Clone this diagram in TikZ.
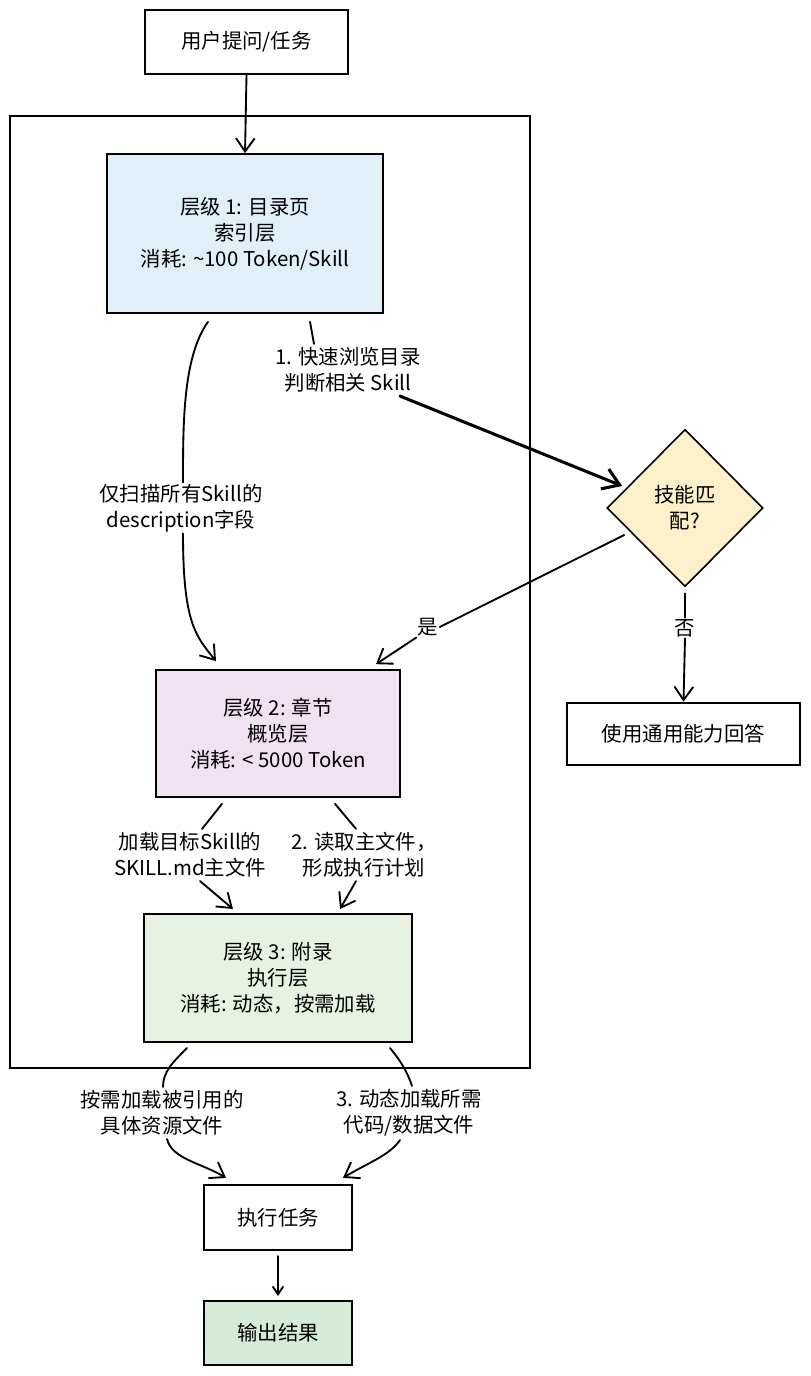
\documentclass[tikz,border=0pt]{standalone}
\usepackage{fontspec}
\setmainfont{Noto Sans CJK SC}
\usetikzlibrary{shapes.geometric,arrows.meta,calc}
\definecolor{cone}{HTML}{DFF0F8}
\definecolor{ctwo}{HTML}{F0E2F1}
\definecolor{cthree}{HTML}{E7F2E3}
\definecolor{cdia}{HTML}{FCF0CB}
\definecolor{cout}{HTML}{D4EBD9}
\begin{document}
\begin{tikzpicture}[x=0.75pt,y=-0.75pt,
  font=\fontsize{15.3}{19.5}\selectfont,
  box/.style={draw=black, line width=1.5pt, align=center, inner sep=2pt},
  dia/.style={draw=black, line width=1.2pt, shape=diamond, aspect=1, inner sep=0pt, align=center},
  lbl/.style={align=center, inner sep=1pt},
  conn/.style={line width=1.4pt, line cap=round},
  arr/.style={conn, -{Straight Barb[length=10pt,width=14pt]}},
  thickarr/.style={line width=2.3pt, line cap=round, -{Straight Barb[length=12pt,width=16pt]}},
  smallarr/.style={conn, -{Straight Barb[length=6pt,width=8pt]}}
]
\fill[white] (0,0) rectangle (810,1376);
\useasboundingbox (0,0) rectangle (810,1376);

% container
\node[draw=black, line width=1.2pt, minimum width=390pt, minimum height=714pt, inner sep=0pt] (frame) at (270,592) {};

% boxes
\node[box, minimum width=152pt, minimum height=48pt] (user) at (246.5,42) {用户提问/任务};
\node[box, fill=cone, minimum width=207pt, minimum height=119pt] (L1) at (245,233.5) {层级 1: 目录页\\索引层\\消耗: \textasciitilde100 Token/Skill};
\node[box, fill=ctwo, minimum width=183pt, minimum height=95pt] (L2) at (278,733.5) {层级 2: 章节\\概览层\\消耗: < 5000 Token};
\node[box, fill=cthree, minimum width=201pt, minimum height=96pt] (L3) at (278,978) {层级 3: 附录\\执行层\\消耗: 动态，按需加载};
\node[dia, fill=cdia, minimum width=117pt, minimum height=118pt] (dec) at (685,508) {技能匹\\配?};
\node[box, minimum width=175pt, minimum height=47pt] (fallback) at (683.5,734) {使用通用能力回答};
\node[box, minimum width=111pt, minimum height=49pt] (exec) at (278,1217.5) {执行任务};
\node[box, fill=cout, minimum width=111pt, minimum height=48pt] (out) at (278,1333) {输出结果};

% labels
\node[lbl] (lab1) at (348,370) {1. 快速浏览目录\\判断相关 Skill};
\node[lbl] (labscan) at (181,508) {仅扫描所有Skill的\\description字段};
\node[lbl] (labyes) at (428,627) {是};
\node[lbl] (labno) at (685,628) {否};
\node[lbl] (lab2a) at (190,855) {加载目标Skill的\\SKILL.md主文件};
\node[lbl] (lab2b) at (364,855) {2. 读取主文件，\\形成执行计划};
\node[lbl] (lab3a) at (162,1113) {按需加载被引用的\\具体资源文件};
\node[lbl] (lab3b) at (409,1113) {3. 动态加载所需\\代码/数据文件};

% connectors
\draw[arr] (user.south) -- (L1.north);

\draw[conn] ($(L1.south)+(-37,8)$) .. controls +(-25,35) and +(0,-60) .. ($(labscan.north)+(2,0)$);
\draw[arr] ($(labscan.south)+(2,0)$) .. controls +(0,90) and +(-20,-25) .. ($(L2.north)+(-62,-8)$);

\draw[conn] ($(L1.south)+(65,8)$) -- ($(lab1.north)+(-34,-2)$);
\draw[thickarr] ($(lab1.south)+(52,2)$) -- ($(dec.west)+(16,-22)$);

\draw[conn] ($(dec.west)+(18,27)$) -- (labyes.east);
\draw[arr] (labyes.south west) -- ($(L2.north east)+(-25,-5)$);

\draw[conn] ($(dec.south)+(0,6)$) -- (labno.north);
\draw[arr] (labno.south) -- (fallback.north);

\draw[conn] ($(L2.south)+(-56,6)$) -- ($(lab2a.north)+(12,-2)$);
\draw[arr] ($(lab2a.south)+(10,2)$) -- ($(L3.north)+(-45,-4)$);
\draw[conn] ($(L2.south)+(57,6)$) -- ($(lab2b.north)+(-8,-2)$);
\draw[arr] ($(lab2b.south)+(-8,2)$) -- ($(L3.north)+(62,-4)$);

\draw[conn] ($(L3.south)+(-91,5)$) .. controls +(-15,15) and +(0,-15) .. ($(lab3a.north)+(1,-2)$);
\draw[arr] ($(lab3a.south)+(5,2)$) .. controls +(5,20) and +(-25,-15) .. ($(exec.north)+(-52,-6)$);
\draw[conn] ($(L3.south)+(112,5)$) .. controls +(10,12) and +(-5,-15) .. ($(lab3b.north)+(3,-2)$);
\draw[arr] ($(lab3b.south)+(-9,2)$) .. controls +(-10,15) and +(25,-15) .. ($(exec.north)+(65,-6)$);

\draw[smallarr] ($(exec.south)+(0,5)$) -- ($(out.north)+(0,-4)$);
\end{tikzpicture}
\end{document}
